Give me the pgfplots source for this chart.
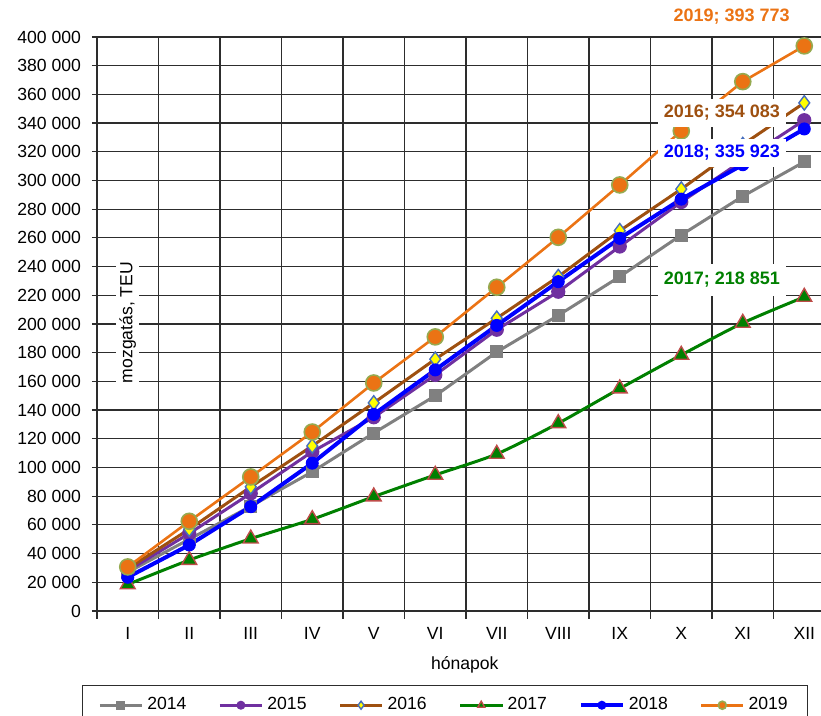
\documentclass[border=0pt]{standalone}
\usepackage{fontspec}
\setmainfont{Liberation Sans}
\usepackage{pgfplots}
\pgfplotsset{compat=1.18}
\definecolor{c2014}{RGB}{128,128,128}
\definecolor{c2015}{RGB}{112,48,160}
\definecolor{c2016}{RGB}{158,80,16}
\definecolor{c2016m}{RGB}{255,255,0}
\definecolor{c2016b}{RGB}{70,110,190}
\definecolor{c2017}{RGB}{0,128,0}
\definecolor{c2017b}{RGB}{190,75,72}
\definecolor{c2018}{RGB}{0,0,255}
\definecolor{c2019}{RGB}{235,115,20}
\definecolor{c2019b}{RGB}{150,170,80}
\definecolor{gridc}{RGB}{45,45,45}
\begin{document}
\begin{tikzpicture}
\begin{axis}[
  scale only axis, width=362pt, height=287pt,
  xmin=0.5, xmax=12.272, ymin=0, ymax=400000,
  axis lines=left, axis line style={-, gridc, line width=0.9pt},
  clip=false,
  xtick={1,2,3,4,5,6,7,8,9,10,11,12},
  xticklabels={I,II,III,IV,V,VI,VII,VIII,IX,X,XI,XII},
  minor xtick={0.5,1.5,2.5,3.5,4.5,5.5,6.5,7.5,8.5,9.5,10.5,11.5},
  ytick distance=20000,
  ymajorgrids, xminorgrids,
  grid style={gridc, line width=0.6pt},
  tick align=outside, major tick length=2.5pt, minor tick length=4pt,
  every tick/.style={gridc, line width=0.6pt},
  major x tick style={draw=none},
  scaled y ticks=false,
  /pgf/number format/fixed,
  /pgf/number format/1000 sep={\ },
  /pgf/number format/assume math mode=true,
  tick label style={font=\fontsize{8.8}{10}\selectfont},
  xticklabel style={yshift=-2pt},
  yticklabel style={xshift=-2pt},
  xlabel={hónapok},
  xlabel style={at={(0.508,0)}, anchor=center, yshift=-27pt, font=\fontsize{8.8}{10}\selectfont},
  legend columns=6,
  legend style={at={(0.4807,-0.1289)}, anchor=north, draw=gridc, line width=0.6pt,
    font=\fontsize{8.8}{10}\selectfont, inner xsep=8pt, inner ysep=4pt,
    /tikz/every even column/.append style={column sep=14pt}},
  legend image code/.code={\draw[mark repeat=2,mark phase=2] plot coordinates {(0pt,0pt) (10.5pt,0pt) (21pt,0pt)};},
  legend image post style={mark size=2pt},
]
\addplot[c2014, line width=1.5pt, mark=square*, mark size=3pt, mark options={fill=c2014, draw=c2014, line width=0.5pt}]
coordinates {(1,27000) (2,50000) (3,73000) (4,97000) (5,124000) (6,150000) (7,180500) (8,206000) (9,233000) (10,262000) (11,289000) (12,313000)};
\addlegendentry{2014}
\addplot[c2015, line width=1.5pt, mark=*, mark size=3.3pt, mark options={fill=c2015, draw=c2015, line width=0.5pt}]
coordinates {(1,28000) (2,54000) (3,82000) (4,111000) (5,135000) (6,164500) (7,196000) (8,222500) (9,254000) (10,285000) (11,314000) (12,342000)};
\addlegendentry{2015}
\addplot[c2016, line width=1.5pt, mark=diamond*, mark size=3.6pt, mark options={fill=c2016m, draw=c2016b, line width=0.7pt}]
coordinates {(1,29500) (2,57000) (3,86500) (4,115000) (5,145000) (6,175500) (7,204000) (8,233000) (9,265000) (10,294000) (11,325000) (12,354083)};
\addlegendentry{2016}
\addplot[c2017, line width=1.5pt, smooth, tension=0.4, mark=triangle*, mark size=4.3pt, mark options={fill=c2017, draw=c2017b, line width=0.7pt}]
coordinates {(1,18500) (2,35500) (3,50400) (4,63900) (5,79700) (6,94800) (7,109400) (8,130800) (9,155000) (10,178400) (11,200700) (12,218851)};
\addlegendentry{2017}
\addplot[c2018, line width=2pt, mark=*, mark size=3pt, mark options={fill=c2018, draw=c2018, line width=0.5pt}]
coordinates {(1,23500) (2,46000) (3,72700) (4,103000) (5,137000) (6,168000) (7,199000) (8,229500) (9,259700) (10,287000) (11,311000) (12,335923)};
\addlegendentry{2018}
\addplot[c2019, line width=1.3pt, mark=*, mark size=4pt, mark options={fill=c2019, draw=c2019b, line width=0.8pt}]
coordinates {(1,30700) (2,62500) (3,93400) (4,124700) (5,158900) (6,191000) (7,225600) (8,260400) (9,296900) (10,334500) (11,368900) (12,393773)};
\addlegendentry{2019}
\coordinate (lab) at (axis cs:1,201000);
\coordinate (l2019) at (axis cs:10.82,414000);
\coordinate (l2016) at (axis cs:10.66,347000);
\coordinate (l2018) at (axis cs:10.66,319200);
\coordinate (l2017) at (axis cs:10.66,230700);
\end{axis}
\node[fill=white, rotate=90, inner sep=1.5pt, font=\fontsize{8.8}{10}\selectfont] at (lab) {mozgatás, TEU};
\node[text=c2019, font=\bfseries\fontsize{9}{10}\selectfont] at (l2019) {2019; 393 773};
\node[fill=white, text=c2016, inner xsep=3pt, inner ysep=3pt, font=\bfseries\fontsize{9}{10}\selectfont] at (l2016) {2016; 354 083};
\node[fill=white, text=c2018, inner xsep=3pt, inner ysep=3pt, font=\bfseries\fontsize{9}{10}\selectfont] at (l2018) {2018; 335 923};
\node[fill=white, text=c2017, inner xsep=3pt, inner ysep=4pt, font=\bfseries\fontsize{9}{10}\selectfont] at (l2017) {2017; 218 851};
\pgfresetboundingbox
\useasboundingbox (-48.5pt,-52.5pt) rectangle (362pt,305.5pt);
\end{tikzpicture}
\end{document}
